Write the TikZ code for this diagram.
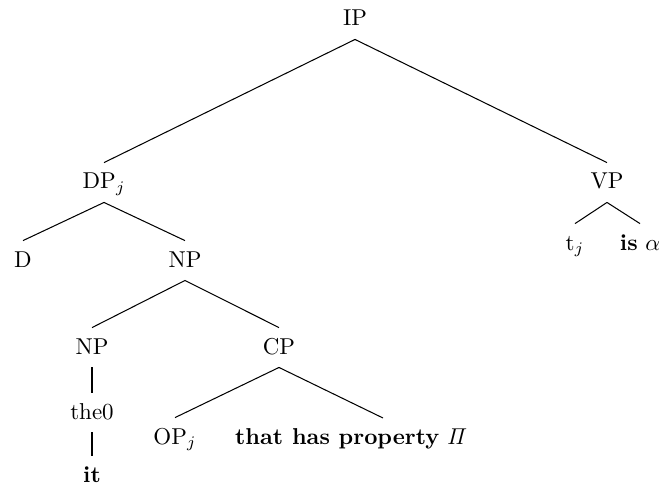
\documentclass[tikz,border=0pt]{standalone}
\begin{document}
\begin{tikzpicture}[x=0.4356pt,y=-0.4356pt,
  lab/.style={anchor=base,inner sep=0pt,text height=11.3pt,text depth=5.66pt},
  br/.style={line width=0.45pt}]
\useasboundingbox (0,0) rectangle (666,487);
\node[lab] (IP) at (355,26) {IP};
\node[lab] (DP) at (104,189) {DP$_j$};
\node[lab] (VP) at (607,189) {VP};
\node[lab] (D) at (23,267) {D};
\node[lab] (NP1) at (185,267) {NP};
\node[lab] (tj) at (575,250) {t$_j$};
\node[lab] (isa) at (640,250) {\textbf{is} $\alpha$};
\node[lab] (NP2) at (92,354) {NP};
\node[lab] (CP) at (279,354) {CP};
\node[lab] (the) at (92,419) {the0};
\node[lab] (OP) at (175,444) {OP$_j$};
\node[lab] (that) at (351.5,444) {\textbf{that has property} $\mathit{\Pi}$};
\node[lab] (it) at (92,482) {\textbf{it}};
\coordinate (cpr) at (383,418);
\draw[br] (IP.south) -- (DP.north);
\draw[br] (IP.south) -- (VP.north);
\draw[br] (DP.south) -- (D.north);
\draw[br] (DP.south) -- (NP1.north);
\draw[br] (VP.south) -- (tj.north);
\draw[br] (VP.south) -- (isa.north);
\draw[br] (NP1.south) -- (NP2.north);
\draw[br] (NP1.south) -- (CP.north);
\draw[br] (NP2.south) -- (the.north);
\draw[br] (the.south) -- (it.north);
\draw[br] (CP.south) -- (OP.north);
\draw[br] (CP.south) -- (cpr);
\end{tikzpicture}
\end{document}
